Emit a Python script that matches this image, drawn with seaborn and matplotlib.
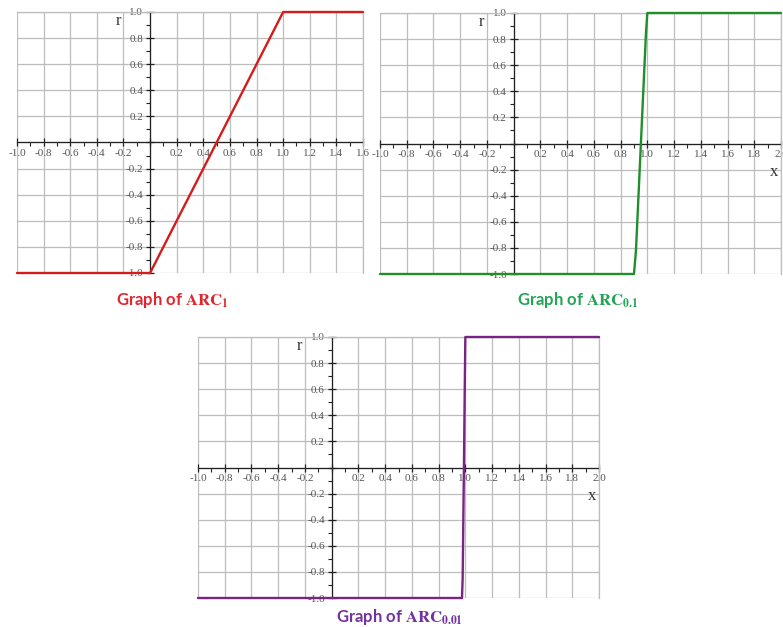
import matplotlib
matplotlib.use("Agg")
import matplotlib.pyplot as plt
import seaborn as sns
import pandas as pd
import numpy as np
from matplotlib.ticker import MultipleLocator

# curves
arc1_x = [-1.0, 0.0, 1.0, 1.6]
arc1_r = [-1.0, -1.0, 1.0, 1.0]

arc01_x = [-1.0, 0.9, 0.915, 0.99, 1.0, 2.0]
arc01_r = [-1.0, -1.0, -0.82, 0.85, 1.0, 1.0]

arc001_x = [-1.0, 0.975, 0.98, 0.99, 0.995, 1.0, 2.0]
arc001_r = [-1.0, -1.0, -0.85, 0.05, 0.55, 1.0, 1.0]

titles = [r"Graph of $\mathbf{ARC_{1}}$", r"Graph of $\mathbf{ARC_{0.1}}$",
          r"Graph of $\mathbf{ARC_{0.01}}$"]
line_colors = ["#d41c1c", "#1f8f2a", "#7a2386"]
title_colors = ["#e0262e", "#25a356", "#7232a0"]

sns.set_theme(style="white")
plt.rcParams["font.family"] = ["Lato", "DejaVu Sans"]
plt.rcParams["mathtext.fontset"] = "stix"

W, H = 783, 627
fig = plt.figure(figsize=(W / 100, H / 100), dpi=100)


def px_axes(left, right, top, bottom):
    return fig.add_axes([left / W, 1 - bottom / H, (right - left) / W, (bottom - top) / H])


def style_axes(ax, xmax, show_x):
    ax.set_xlim(-1.0, xmax)
    ax.set_ylim(-1.0, 1.0)
    ax.xaxis.set_minor_locator(MultipleLocator(0.1))
    ax.yaxis.set_minor_locator(MultipleLocator(0.1))
    ax.grid(True, which="major", color="#bdbdbd", linewidth=0.9)
    ax.set_axisbelow(True)
    for s in ["top", "right"]:
        ax.spines[s].set_color("#bdbdbd")
        ax.spines[s].set_linewidth(0.9)
    for s in ["left", "bottom"]:
        ax.spines[s].set_position(("data", 0))
        ax.spines[s].set_color("#222222")
        ax.spines[s].set_linewidth(0.9)
        ax.spines[s].set_zorder(1)
    ax.tick_params(which="major", direction="inout", length=6, width=0.9, color="#222222",
                   labelsize=8, labelcolor="#555555", pad=2, left=True, bottom=True)
    ax.tick_params(which="minor", direction="out", length=3, width=0.8, color="#222222",
                   left=True, bottom=True)
    xt = np.round(np.arange(-1.0, xmax + 0.01, 0.2), 1)
    ax.set_xticks(xt)
    ax.set_xticklabels(["" if abs(v) < 1e-9 else f"{v:.1f}" for v in xt],
                       family="Liberation Serif")
    yt = np.round(np.arange(-1.0, 1.01, 0.2), 1)
    ax.set_yticks(yt)
    ax.set_yticklabels(["" if abs(v) < 1e-9 else f"{v:.1f}" for v in yt],
                       family="Liberation Serif")
    ax.set_xlabel("")
    ax.set_ylabel("")
    ax.text(-0.24, 0.93, "r", family="Liberation Serif", fontsize=12, color="#333333",
            ha="center", va="center")
    if show_x:
        ax.text(1.95, -0.215, "x", family="Liberation Serif", fontsize=12, color="#333333",
                ha="center", va="center")


panels = [
    (px_axes(17, 363, 12, 273), arc1_x, arc1_r, 1.6, False, (172, 300)),
    (px_axes(380, 781, 13, 274), arc01_x, arc01_r, 2.0, True, (578, 300)),
    (px_axes(198, 599, 337, 598), arc001_x, arc001_r, 2.0, True, (400, 617)),
]

for i, (ax, xs, rs, xmax, show_x, tpos) in enumerate(panels):
    df = pd.DataFrame({"x": xs, "r": rs})
    sns.lineplot(data=df, x="x", y="r", ax=ax, color=line_colors[i], linewidth=1.7,
                 sort=False, estimator=None, zorder=3, clip_on=False)
    style_axes(ax, xmax, show_x)
    fig.text(tpos[0] / W, 1 - tpos[1] / H, titles[i], color=title_colors[i],
             fontsize=12, fontweight="bold", ha="center", va="center")

fig.savefig("out.png", dpi=100)
